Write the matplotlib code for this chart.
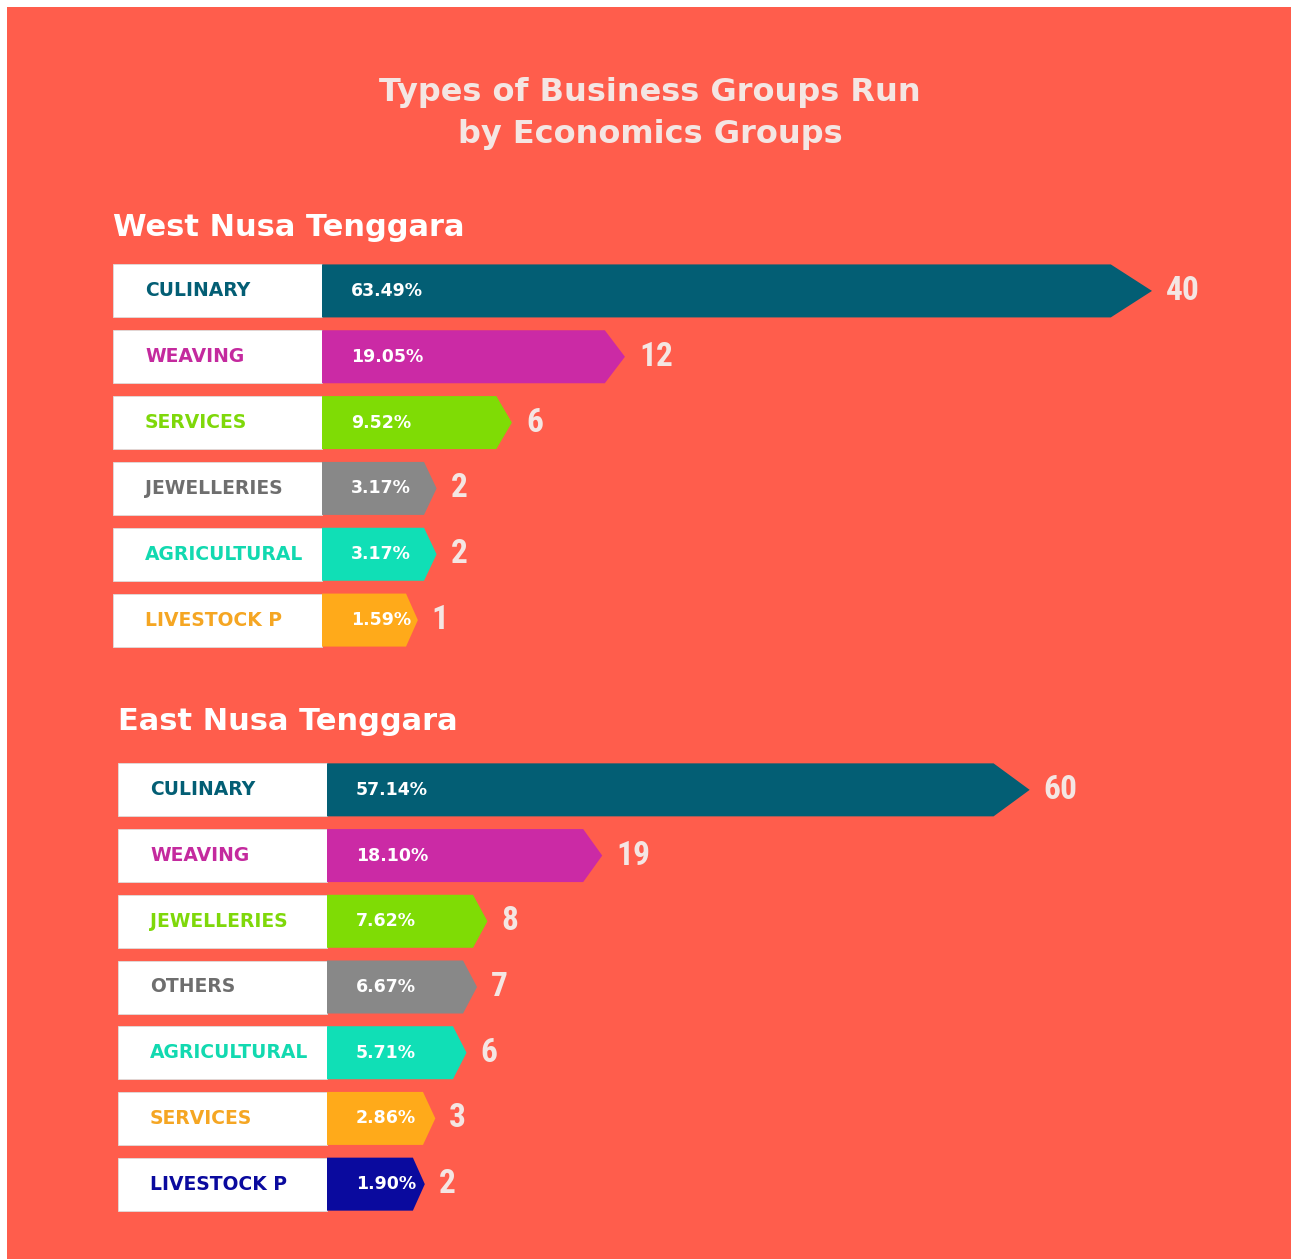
import matplotlib
matplotlib.use("Agg")
import matplotlib.pyplot as plt
from matplotlib.patches import Polygon, Rectangle

# data
west_labels = ["CULINARY", "WEAVING", "SERVICES", "JEWELLERIES", "AGRICULTURAL", "LIVESTOCK P"]
west_pct = [63.49, 19.05, 9.52, 3.17, 3.17, 1.59]
west_counts = [40, 12, 6, 2, 2, 1]

east_labels = ["CULINARY", "WEAVING", "JEWELLERIES", "OTHERS", "AGRICULTURAL", "SERVICES", "LIVESTOCK P"]
east_pct = [57.14, 18.10, 7.62, 6.67, 5.71, 2.86, 1.90]
east_counts = [60, 19, 8, 7, 6, 3, 2]

# colours per category
TEAL, MAGENTA, LIME, GREY, TURQ, ORANGE, NAVY = (
    "#035E74", "#CB2AA5", "#7FDC05", "#888888", "#10DFB6", "#FFAA1A", "#0A0A9E")
west_fill = [TEAL, MAGENTA, LIME, GREY, TURQ, ORANGE]
west_text = [TEAL, "#C42A9E", "#7FD80A", "#6E6E6E", "#12D9B0", "#F5A623"]
east_fill = [TEAL, MAGENTA, LIME, GREY, TURQ, ORANGE, NAVY]
east_text = [TEAL, "#C42A9E", "#7FD80A", "#6E6E6E", "#12D9B0", "#F5A623", NAVY]

BG = "#FF5D4C"
LIGHT = "#F4E6E3"
W, H = 1291, 1259

fig = plt.figure(figsize=(W / 100, H / 100), dpi=100, facecolor="white")
fig.patches.append(Rectangle((7 / W, 0), 1 - 7 / W, 1 - 7 / H, transform=fig.transFigure,
                             facecolor=BG, edgecolor="none", zorder=-10))

# condensed face for the counts, falls back to DejaVu
num_font = ["Liberation Sans Narrow", "Roboto Condensed", "Open Sans Condensed", "DejaVu Sans"]


def draw_panel(box_left, bar_x0, top, bottom, scale, labels, pct, counts, fills, tcolors):
    n = len(labels)
    row_px = (bottom - top) / n
    ax = fig.add_axes([box_left / W, 1 - bottom / H, (W - box_left) / W, (bottom - top) / H])
    ax.set_xlim(-(bar_x0 - box_left) / scale, (W - bar_x0) / scale)
    ax.set_ylim(n - 0.5, -0.5)
    ax.axis("off")
    h = 26.5 / row_px
    box_w = (bar_x0 - box_left) / scale
    base = 77 / scale
    for i in range(n):
        end = pct[i] + base
        depth = (8 + 0.04 * end * scale) / scale
        ax.add_patch(Rectangle((-box_w, i - h), box_w, 2 * h, facecolor="white",
                               edgecolor="#dddddd", lw=0.6))
        ax.add_patch(Polygon([(0, i - h), (end - depth, i - h), (end, i),
                              (end - depth, i + h), (0, i + h)],
                             closed=True, facecolor=fills[i], edgecolor="none"))
        ax.text(-box_w + 32 / scale, i, labels[i], color=tcolors[i], fontsize=13.5,
                fontweight="heavy", va="center", ha="left")
        ax.text(29 / scale, i, f"{pct[i]:.2f}%", color="white", fontsize=12.5,
                fontweight="bold", va="center", ha="left")
        ax.text(end + 14 / scale, i, str(counts[i]), color=LIGHT, fontsize=24,
                fontweight="bold", family=num_font, fontstretch="condensed",
                va="center", ha="left")
    return ax


fig.text(650 / W, 1 - 93 / H, "Types of Business Groups Run", ha="center", va="center",
         fontsize=23, fontweight="bold", color=LIGHT)
fig.text(650 / W, 1 - 135 / H, "by Economics Groups", ha="center", va="center",
         fontsize=23, fontweight="bold", color=LIGHT)

fig.text(113 / W, 1 - 227 / H, "West Nusa Tenggara", ha="left", va="center",
         fontsize=22, fontweight="bold", color="white")
draw_panel(113, 322, 258, 653, 11.86, west_labels, west_pct, west_counts, west_fill, west_text)

fig.text(118 / W, 1 - 722 / H, "East Nusa Tenggara", ha="left", va="center",
         fontsize=22, fontweight="bold", color="white")
draw_panel(118, 327, 757, 1217, 10.95, east_labels, east_pct, east_counts, east_fill, east_text)

fig.savefig("out.png", dpi=100, facecolor="white")
